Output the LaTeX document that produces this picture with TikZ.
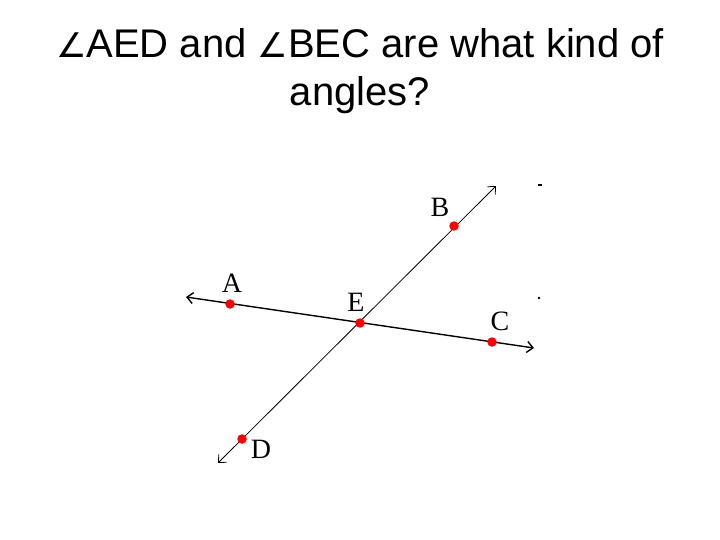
\documentclass[tikz,border=0pt]{standalone}
\usepackage{fontspec}
\setmainfont{Liberation Sans}
\newfontfamily\labelfont{Liberation Serif}
\newfontfamily\anglefont{DejaVu Sans}
\usetikzlibrary{arrows.meta}
\usetikzlibrary{positioning}

\newcommand{\angsym}{{\anglefont\fontsize{34}{40}\selectfont ∠}}

\begin{document}
\begin{tikzpicture}[x=1pt,y=-1pt,>={Straight Barb[length=6pt,width=11pt]},semithick]
					\tikzstyle{reddot}=[circle,fill=red,inner sep=0pt,minimum size=9.5pt]
					\tikzstyle{ptlabel}=[inner sep=0pt,font=\labelfont\fontsize{28}{28}\selectfont]
					\tikzstyle{title}=[anchor=base,font=\fontsize{40}{48}\selectfont]
					
					\useasboundingbox (0,0) rectangle (720,540);
					
					% question
					\node[title] (q1) at (360,58) {\angsym AED and \angsym BEC are what kind of};
					\node[title] (q2) at (360,106) {angles?};
					
					% the two lines
					\coordinate (Aend) at (186,297);
					\coordinate (Cend) at (534,348);
					\coordinate (Bend) at (496,186);
					\coordinate (Dend) at (218,463);
					
					\draw[<->,line width=1.4pt] (Aend) -- (Cend);
					\draw[<->,line width=0.8pt] (Dend) -- (Bend);
					
					% points
					\node[reddot] (A) at (230,304) {};
					\node[reddot] (E) at (360,323) {};
					\node[reddot] (C) at (492,342) {};
					\node[reddot] (B) at (454,226) {};
					\node[reddot] (D) at (242,439) {};
					
					\node[ptlabel] (lA) at (232,283) {A};
					\node[ptlabel] (lE) at (356,302) {E};
					\node[ptlabel] (lC) at (500,321) {C};
					\node[ptlabel] (lB) at (440,207) {B};
					\node[ptlabel] (lD) at (261,449) {D};
					
					% stray marks
					\fill (538,184) rectangle (542,186);
					\fill (539,298) circle (1.3);
					\end{tikzpicture}
\end{document}
